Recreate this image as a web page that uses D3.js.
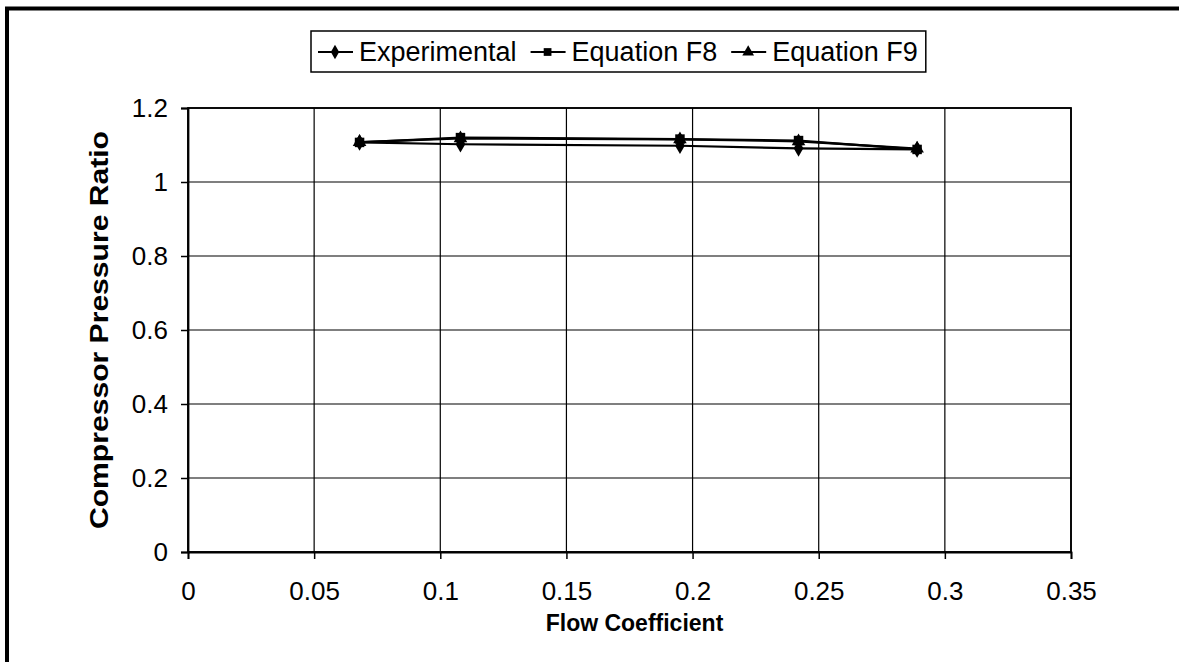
<!DOCTYPE html>
<html>
<head>
<meta charset="utf-8">
<script src="https://d3js.org/d3.v7.min.js"></script>
<style>
body{margin:0;background:#fff;}
svg text{font-family:"Liberation Sans",Arial,sans-serif;fill:#000;}
</style>
</head>
<body>
<div class="chart"></div>
<script>
var width=1179,
    height=662;

// data
var flowCoef=[0.068,0.108,0.195,0.242,0.289];
var experimental=[1.107,1.102,1.098,1.091,1.088];
var equationF8=[1.107,1.120,1.116,1.112,1.088];
var equationF9=[1.108,1.118,1.115,1.110,1.090];
var seriesNames=['Experimental','Equation F8','Equation F9'];
var xTicks=[0,0.05,0.1,0.15,0.2,0.25,0.3,0.35];
var yTicks=[0,0.2,0.4,0.6,0.8,1,1.2];

var series=[
    {name:seriesNames[0],values:experimental,marker:'diamond'},
    {name:seriesNames[1],values:equationF8,marker:'square'},
    {name:seriesNames[2],values:equationF9,marker:'triangle'}
];

// plot area (window.top is reserved, so no "top" here)
var plotL=188,plotR=1071,plotT=108,plotB=552;

var svg=d3.select('.chart')
    .append('svg')
        .attr('width',width)
        .attr('height',height);

// outer frame (only top and left edges show)
svg.append('path')
    .attr('d',`M7,${height} V8.5 H${width}`)
    .attr('fill','none')
    .attr('stroke','#000')
    .attr('stroke-width',4);

var x=d3.scaleLinear().domain([0,0.35]).range([plotL,plotR]);
var y=d3.scaleLinear().domain([0,1.2]).range([plotB,plotT]);

// grid
svg.append('g')
    .selectAll('line')
    .data(xTicks)
    .enter()
    .append('line')
    .attr('x1',d=>x(d)).attr('x2',d=>x(d))
    .attr('y1',plotT).attr('y2',plotB)
    .attr('stroke','#000').attr('stroke-width',1.2);

svg.append('g')
    .selectAll('line')
    .data(yTicks)
    .enter()
    .append('line')
    .attr('x1',plotL).attr('x2',plotR)
    .attr('y1',d=>y(d)).attr('y2',d=>y(d))
    .attr('stroke','#000').attr('stroke-width',1.2);

svg.append('rect')
    .attr('x',plotL).attr('y',plotT)
    .attr('width',plotR-plotL).attr('height',plotB-plotT)
    .attr('fill','none').attr('stroke','#000').attr('stroke-width',1.8);

// axes
var xAxis=svg.append('g')
    .attr('transform',`translate(0,${plotB})`)
    .call(d3.axisBottom(x).tickValues(xTicks).tickSize(7).tickPadding(23).tickFormat(d3.format('')));
var yAxis=svg.append('g')
    .attr('transform',`translate(${plotL},0)`)
    .call(d3.axisLeft(y).tickValues(yTicks).tickSize(7).tickPadding(13).tickFormat(d3.format('')));

[xAxis,yAxis].forEach(a=>{
    a.select('.domain').attr('stroke','#000').attr('stroke-width',1.8);
    a.selectAll('.tick line').attr('stroke','#000').attr('stroke-width',1.5);
    a.selectAll('.tick text')
        .style('font-size','26px')
        .attr('fill','#000');
});

svg.append('text')
    .attr('x',(plotL+plotR)/2+5)
    .attr('y',631)
    .attr('text-anchor','middle')
    .style('font-size','23px')
    .style('font-weight','bold')
    .text('Flow Coefficient');

svg.append('text')
    .attr('transform',`translate(108,${(plotT+plotB)/2}) rotate(-90)`)
    .attr('text-anchor','middle')
    .attr('textLength',398)
    .attr('lengthAdjust','spacingAndGlyphs')
    .style('font-size','26px')
    .style('font-weight','bold')
    .text('Compressor Pressure Ratio');

// markers
var symbols={
    diamond:d3.symbol().type(d3.symbolDiamond).size(80),
    square:d3.symbol().type(d3.symbolSquare).size(90),
    triangle:d3.symbol().type(d3.symbolTriangle).size(80)
};

var line=d3.line()
    .x((d,i)=>x(flowCoef[i]))
    .y(d=>y(d));

series.forEach(s=>{
    svg.append('path')
        .attr('d',line(s.values))
        .attr('fill','none')
        .attr('stroke','#000')
        .attr('stroke-width',2.2);
    svg.append('g')
        .selectAll('path')
        .data(s.values)
        .enter()
        .append('path')
        .attr('transform',(d,i)=>`translate(${x(flowCoef[i])},${y(d)})`)
        .attr('d',symbols[s.marker]())
        .attr('fill','#000');
});

// legend
var legend=svg.append('g');
var lx=318,ly=52;
series.forEach(s=>{
    legend.append('line')
        .attr('x1',lx).attr('x2',lx+35)
        .attr('y1',ly).attr('y2',ly)
        .attr('stroke','#000').attr('stroke-width',2.2);
    legend.append('path')
        .attr('transform',`translate(${lx+17},${ly})`)
        .attr('d',symbols[s.marker].size(60)())
        .attr('fill','#000');
    var t=legend.append('text')
        .attr('x',lx+41)
        .attr('y',ly+9)
        .style('font-size','27px')
        .text(s.name);
    lx+=41+t.node().getComputedTextLength()+14;
});
legend.insert('rect',':first-child')
    .attr('x',311).attr('y',31)
    .attr('width',lx-311-6).attr('height',41)
    .attr('fill','#fff')
    .attr('stroke','#000')
    .attr('stroke-width',1.5);
</script>
</body>
</html>
